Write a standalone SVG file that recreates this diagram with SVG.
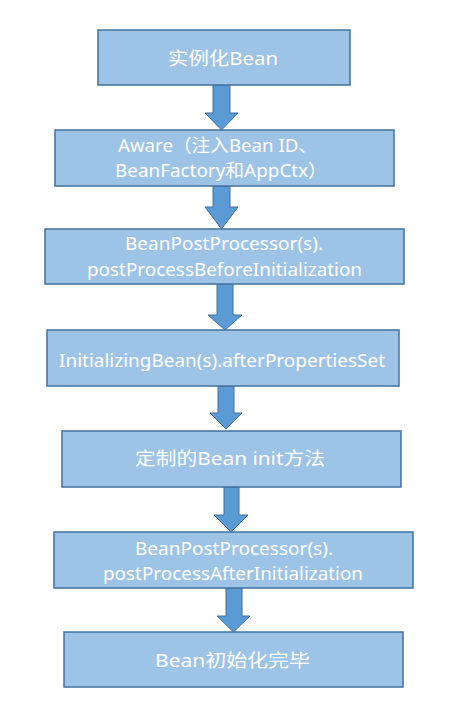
<svg xmlns="http://www.w3.org/2000/svg" width="470" height="714" viewBox="0 0 470 714">
<style>
.box{fill:#9DC3E6;stroke:#41719C;stroke-width:1.5}
.arr{fill:#5B9BD5;stroke:#41719C;stroke-width:1}
.t{fill:#FFFFFF;font-family:"Noto Sans","Noto Sans CJK SC",sans-serif;font-size:18px;text-anchor:middle}
</style>
<rect width="470" height="714" fill="#FFFFFF"/>
<g id="connectors">
<polygon class="arr" points="213,85 230,85 230,113 238,113 221.5,130 205,113 213,113"/>
<polygon class="arr" points="213,186 230,186 230,207 238,207 221.5,229 205,207 213,207"/>
<polygon class="arr" points="217,284 233,284 233,315 242,315 225,330 208,315 217,315"/>
<polygon class="arr" points="218,386 234,386 234,413 242,413 226,429 210,413 218,413"/>
<polygon class="arr" points="224,487 239,487 239,515 248,515 231,532 214,515 224,515"/>
<polygon class="arr" points="226,588 242,588 242,616 250,616 233.5,632 217,616 226,616"/>
</g>
<g id="n1">
<rect class="box" x="98" y="30" width="252" height="55"/>
<text class="t" x="223" y="65" textLength="110" lengthAdjust="spacingAndGlyphs">实例化Bean</text>
</g>
<g id="n2">
<rect class="box" x="55" y="130" width="339" height="56"/>
<text class="t" x="217.5" y="152" textLength="199" lengthAdjust="spacingAndGlyphs">Aware（注入Bean ID、</text>
<text class="t" x="221" y="177" textLength="212" lengthAdjust="spacingAndGlyphs">BeanFactory和AppCtx）</text>
</g>
<g id="n3">
<rect class="box" x="45" y="229" width="359" height="55"/>
<text class="t" x="224" y="250" textLength="198" lengthAdjust="spacingAndGlyphs">BeanPostProcessor(s).</text>
<text class="t" x="224.5" y="276" textLength="275" lengthAdjust="spacingAndGlyphs">postProcessBeforeInitialization</text>
</g>
<g id="n4">
<rect class="box" x="47" y="330" width="352" height="56"/>
<text class="t" x="222" y="367" textLength="326" lengthAdjust="spacingAndGlyphs">InitializingBean(s).afterPropertiesSet</text>
</g>
<g id="n5">
<rect class="box" x="62" y="431" width="339" height="56"/>
<text class="t" x="230" y="465" textLength="190" lengthAdjust="spacingAndGlyphs">定制的Bean init方法</text>
</g>
<g id="n6">
<rect class="box" x="54" y="532" width="359" height="56"/>
<text class="t" x="234" y="555" textLength="198" lengthAdjust="spacingAndGlyphs">BeanPostProcessor(s).</text>
<text class="t" x="233" y="580" textLength="260" lengthAdjust="spacingAndGlyphs">postProcessAfterInitialization</text>
</g>
<g id="n7">
<rect class="box" x="64" y="632" width="339" height="55"/>
<text class="t" x="232.5" y="667" textLength="155" lengthAdjust="spacingAndGlyphs">Bean初始化完毕</text>
</g>
</svg>
